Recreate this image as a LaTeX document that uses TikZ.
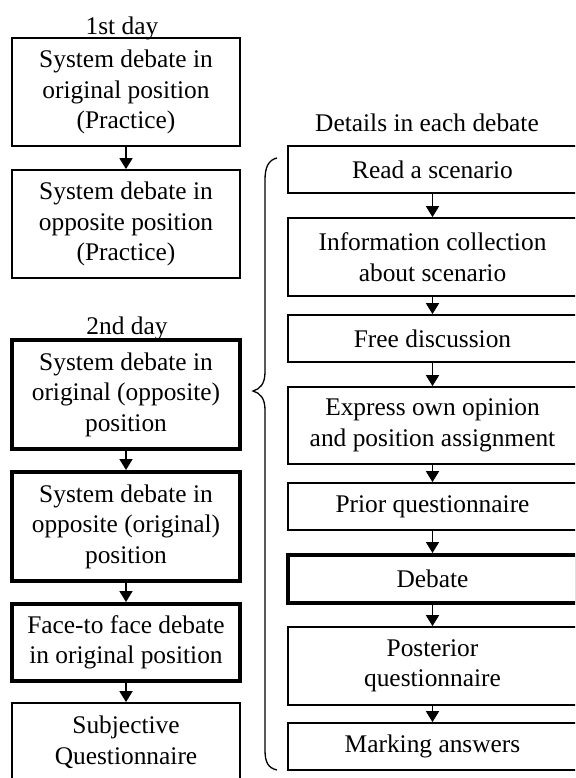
\documentclass[tikz,border=0pt]{standalone}
\usepackage{fontspec}
\setmainfont{Liberation Serif}
\usetikzlibrary{arrows.meta}
\begin{document}
\begin{tikzpicture}[x=1pt,y=-1pt,
  every node/.style={font=\fontsize{25.4}{30.5}\selectfont, inner sep=0pt},
  box/.style={draw, line width=1.8pt, align=center, rectangle},
  thickbox/.style={box, line width=4pt},
  lbox/.style={minimum width=228pt},
  rbox/.style={minimum width=289pt},
  flow/.style={line width=1.8pt, -{Triangle[width=13pt,length=11pt]}, shorten >=0pt}
]
\useasboundingbox (0,0) rectangle (575,778);
\clip (0,0) rectangle (575,778);

% labels
\node[anchor=base] (t1) at (122,35) {1st day};
\node[anchor=base] (t2) at (127,334) {2nd day};
\node[anchor=base] (t3) at (427,132) {Details in each debate};

% left column
\node[box,lbox,minimum height=108pt] (l1) at (126,92) {System debate in\\original position\\(Practice)};
\node[box,lbox,minimum height=108pt] (l2) at (126,224) {System debate in\\opposite position\\(Practice)};
\node[thickbox,lbox,minimum height=109pt] (l3) at (126,394.5) {System debate in\\original (opposite)\\position};
\node[thickbox,lbox,minimum height=109pt] (l4) at (126,526.5) {System debate in\\opposite (original)\\position};
\node[thickbox,lbox,minimum height=77pt] (l5) at (126,642.5) {Face-to face debate\\in original position};
\node[box,lbox,minimum height=78pt] (l6) at (126,742) {Subjective\\Questionnaire};

% right column
\node[box,rbox,minimum height=47pt] (r1) at (432.5,169.5) {Read a scenario};
\node[box,rbox,minimum height=78pt] (r2) at (432.5,257) {Information collection\\about scenario};
\node[box,rbox,minimum height=47pt] (r3) at (432.5,338.5) {Free discussion};
\node[box,rbox,minimum height=77pt] (r4) at (432.5,425.5) {Express own opinion\\and position assignment};
\node[box,rbox,minimum height=47pt] (r5) at (432.5,506.5) {Prior questionnaire};
\node[thickbox,rbox,minimum height=48pt] (r6) at (432.5,579) {Debate};
\node[box,rbox,minimum height=78pt] (r7) at (432.5,666) {Posterior\\questionnaire};
\node[box,rbox,minimum height=47pt] (r8) at (432.5,746.5) {Marking answers};

% arrows
\draw[flow] (l1) -- (l2);
\draw[flow] (l3) -- (l4);
\draw[flow] (l4) -- (l5);
\draw[flow] (l5) -- (l6);
\draw[flow] (r1.south) -- (r2.north);
\draw[flow] (r2.south) -- (r3.north);
\draw[flow] (r3.south) -- (r4.north);
\draw[flow] (r4.south) -- (r5.north);
\draw[flow] (r5.south) -- (r6.north);
\draw[flow] (r6.south) -- (r7.north);
\draw[flow] (r7.south) -- (r8.north);

% brace
\draw[line width=1.3pt] (277,158) .. controls (268,160) and (265,168) .. (265,180)
  -- (265,372) .. controls (265,384) and (260,389) .. (253,391)
  .. controls (260,393) and (265,398) .. (265,410)
  -- (265,750) .. controls (265,762) and (268,768) .. (277,770);
\end{tikzpicture}
\end{document}
